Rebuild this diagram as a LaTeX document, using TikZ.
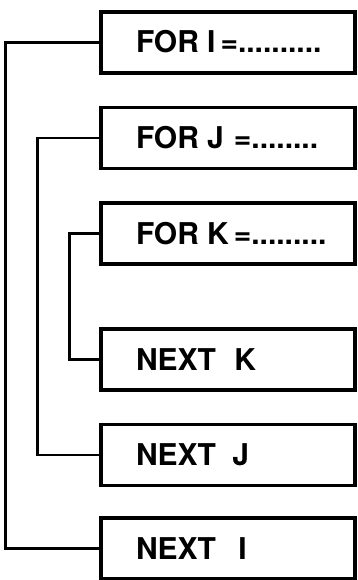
\documentclass[tikz,border=0pt]{standalone}
\usepackage{fontspec}
\setmainfont{TeX Gyre Heros}
\newcommand\lbl[1]{\makebox[184pt][l]{#1}}
\begin{document}
\begin{tikzpicture}[x=1pt,y=-1pt,
  loopbox/.style={draw, line width=3.2pt, minimum width=254pt, minimum height=61pt,
    inner xsep=35pt, inner ysep=0pt, text height=21pt, text depth=0pt,
    font=\fontsize{30}{31}\selectfont\bfseries},
  link/.style={line width=2.4pt}]
\useasboundingbox (0,0) rectangle (357,580);
\node[loopbox] (fi) at (228,42.5) {\lbl{FOR I\,=..........}};
\node[loopbox] (fj) at (228,138) {\lbl{FOR J\,\,=........}};
\node[loopbox] (fk) at (228,233.5) {\lbl{FOR K\,=.........}};
\node[loopbox] (nk) at (228,359.5) {\lbl{NEXT\hspace{10pt} K}};
\node[loopbox] (nj) at (228,455) {\lbl{NEXT\hspace{8pt} J}};
\node[loopbox] (ni) at (228,548.5) {\lbl{NEXT\hspace{14pt} I}};
\draw[link] (fi.west) -- ++(-94,0) |- (ni.west);
\draw[link] (fj.west) -- ++(-62,0) |- (nj.west);
\draw[link] (fk.west) -- ++(-30,0) |- (nk.west);
\end{tikzpicture}
\end{document}
